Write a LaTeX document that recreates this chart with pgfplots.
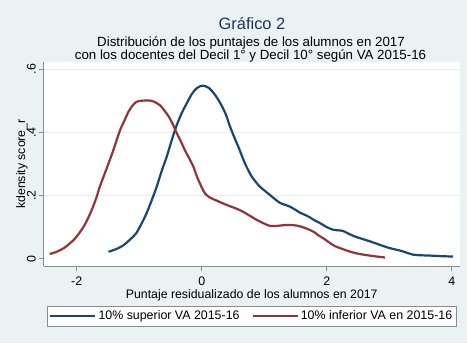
\documentclass[border=0pt]{standalone}
\usepackage{fontspec}
\setmainfont{Liberation Sans}
\usepackage{pgfplots}
\pgfplotsset{compat=1.18}
\definecolor{bgc}{RGB}{234,242,243}
\definecolor{stblue}{RGB}{26,71,111}
\definecolor{stred}{RGB}{144,53,59}
\definecolor{titc}{RGB}{30,50,100}
\definecolor{gridc}{RGB}{230,236,238}
\definecolor{axc}{RGB}{140,140,140}
\begin{document}
\begin{tikzpicture}[x=1bp,y=1bp]
\fill[bgc] (0,0) rectangle (467,343);
\begin{pgfinterruptboundingbox}
\node[font=\fontsize{16.4bp}{19bp}\selectfont, text=titc, anchor=base, inner sep=0] at (252,313.5) {Gráfico 2};
\node[font=\fontsize{13.3bp}{15bp}\selectfont, anchor=base, inner sep=0] at (251,297) {Distribución de los puntajes de los alumnos en 2017};
\node[font=\fontsize{13.3bp}{15bp}\selectfont, anchor=base, inner sep=0] at (250.5,283.5) {con los docentes del Decil 1° y Decil 10° según VA 2015-16};
\begin{axis}[
  at={(43.5bp,77bp)}, anchor=south west, scale only axis,
  width=416.5bp, height=204bp,
  xmin=-2.53, xmax=4.13, ymin=-0.023, ymax=0.623,
  axis background/.style={fill=white},
  axis lines*=left,
  axis line style={axc, line width=0.8bp},
  xtick={-2,0,2,4}, xticklabels={-2,0,2,4},
  ytick={0,0.2,0.4,0.6}, yticklabels={0,.2,.4,.6},
  extra y ticks={0.2,0.4,0.6}, extra y tick labels={},
  extra y tick style={grid=major, major grid style={gridc, line width=1bp}, major tick length=0pt},
  tick align=outside, major tick length=5bp,
  tick style={axc, line width=0.8bp},
  ticklabel style={font=\fontsize{12.4bp}{14bp}\selectfont},
  xticklabel style={anchor=north, inner sep=0pt},
  xticklabel shift=6bp,
  yticklabel style={rotate=90, anchor=base, inner sep=0pt},
  yticklabel shift=3bp,
  xlabel={Puntaje residualizado de los alumnos en 2017},
  xlabel style={font=\fontsize{12.3bp}{14bp}\selectfont, at={(axis description cs:0.5,-0.157)}, anchor=base, inner sep=0pt},
  ylabel={kdensity score\_r},
  ylabel style={font=\fontsize{12.3bp}{14bp}\selectfont, at={(axis description cs:-0.052,0.5)}, anchor=center, inner sep=0pt},
  legend columns=2,
  legend style={at={(axis description cs:0.5,-0.195)}, anchor=north, draw=axc, fill=white,
    font=\fontsize{12.4bp}{14bp}\selectfont, inner xsep=2bp, inner ysep=3bp,
    /tikz/every even column/.append style={column sep=10bp}},
  legend image code/.code={\draw[#1, line width=2.2bp] (0bp,0bp) -- (45bp,0bp);},
  legend cell align=left,
]
\addplot[stblue, line width=2.2bp, smooth, tension=0.5] coordinates {
(-1.49,0.022) (-1.35,0.032) (-1.25,0.043) (-1.15,0.060) (-1.05,0.080)
(-0.96,0.112) (-0.88,0.145) (-0.80,0.185) (-0.72,0.228) (-0.64,0.278)
(-0.56,0.323) (-0.48,0.375) (-0.40,0.423) (-0.32,0.461) (-0.24,0.492)
(-0.16,0.521) (-0.08,0.540) (0.00,0.548) (0.05,0.547) (0.12,0.540)
(0.19,0.525) (0.26,0.505) (0.32,0.484) (0.39,0.455) (0.45,0.420)
(0.52,0.385) (0.59,0.352) (0.65,0.322) (0.70,0.298) (0.75,0.278)
(0.80,0.260) (0.87,0.242) (0.93,0.228) (1.01,0.215) (1.09,0.202)
(1.17,0.189) (1.25,0.177) (1.33,0.171) (1.41,0.165) (1.49,0.156)
(1.57,0.146) (1.65,0.139) (1.73,0.131) (1.80,0.122) (1.89,0.113)
(2.00,0.100) (2.10,0.092) (2.18,0.090) (2.26,0.088) (2.36,0.078)
(2.47,0.069) (2.58,0.062) (2.69,0.055) (2.82,0.046) (2.95,0.037)
(3.06,0.031) (3.17,0.026) (3.28,0.019) (3.38,0.013) (3.50,0.011)
(3.65,0.010) (3.85,0.008) (4.02,0.007)
};
\addlegendentry{10\% superior VA 2015-16}
\addplot[stred, line width=2.2bp, smooth, tension=0.5] coordinates {
(-2.43,0.015) (-2.32,0.022) (-2.21,0.033) (-2.13,0.045) (-2.05,0.059)
(-1.97,0.078) (-1.89,0.101) (-1.82,0.127) (-1.76,0.154) (-1.69,0.190)
(-1.63,0.228) (-1.56,0.265) (-1.49,0.302) (-1.42,0.340) (-1.36,0.376)
(-1.30,0.410) (-1.23,0.440) (-1.17,0.466) (-1.11,0.484) (-1.05,0.496)
(-0.98,0.500) (-0.88,0.501) (-0.80,0.500) (-0.72,0.493) (-0.66,0.485)
(-0.60,0.470) (-0.53,0.451) (-0.46,0.425) (-0.40,0.398) (-0.33,0.370)
(-0.27,0.344) (-0.20,0.318) (-0.13,0.290) (-0.08,0.262) (-0.03,0.239)
(0.02,0.218) (0.06,0.205) (0.12,0.195) (0.18,0.189) (0.24,0.184)
(0.33,0.176) (0.43,0.168) (0.55,0.159) (0.66,0.149) (0.77,0.136)
(0.88,0.123) (0.98,0.113) (1.09,0.104) (1.20,0.104) (1.30,0.106)
(1.40,0.107) (1.52,0.105) (1.63,0.099) (1.73,0.091) (1.80,0.084)
(1.86,0.075) (1.95,0.064) (2.05,0.050) (2.13,0.040) (2.25,0.031)
(2.38,0.022) (2.50,0.016) (2.65,0.011) (2.80,0.007) (2.93,0.004)
};
\addlegendentry{10\% inferior VA en 2015-16}
\end{axis}
\end{pgfinterruptboundingbox}
\useasboundingbox (0,0) rectangle (467,343);
\end{tikzpicture}
\end{document}
